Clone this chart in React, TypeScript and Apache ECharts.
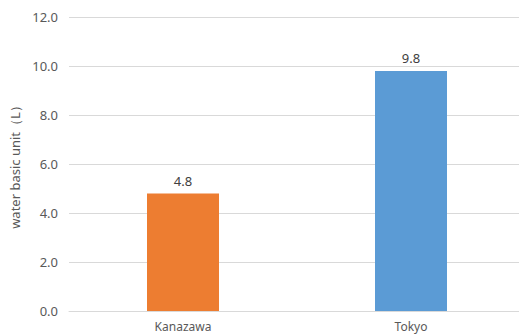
import React, { useEffect, useRef } from "react";
import * as echarts from "echarts";

const categories = ["Kanazawa", "Tokyo"];
const values = [4.8, 9.8];
const barColors = ["#ED7D31", "#5B9BD5"];
const yTicks = { min: 0, max: 12, interval: 2 };
const yAxisName = "water basic unit（L）";

export default function App() {
  const ref = useRef<HTMLDivElement>(null);
  useEffect(() => {
    if (!ref.current) return;
    const chart = echarts.init(ref.current, null, { renderer: "svg" });
    const font = "Noto Sans";
    chart.setOption({
      animation: false,
      backgroundColor: "#ffffff",
      grid: { left: 69, right: 0, top: 17, bottom: 24, containLabel: false },
      xAxis: {
        type: "category",
        data: categories,
        axisLine: { lineStyle: { color: "#d9d9d9", width: 1 } },
        axisTick: { show: false },
        axisLabel: { color: "#595959", fontSize: 12, fontFamily: font, margin: 9 },
      },
      yAxis: {
        type: "value",
        min: yTicks.min,
        max: yTicks.max,
        interval: yTicks.interval,
        name: yAxisName,
        nameLocation: "middle",
        nameGap: 44,
        nameTextStyle: { color: "#595959", fontSize: 13, fontFamily: font },
        axisLine: { show: false },
        axisTick: { show: false },
        axisLabel: {
          color: "#595959",
          fontSize: 13,
          fontFamily: font,
          margin: 11,
          formatter: (v: number) => v.toFixed(1),
        },
        splitLine: { lineStyle: { color: "#d9d9d9", width: 1 } },
      },
      series: [
        {
          type: "bar",
          data: values.map((v, i) => ({ value: v, itemStyle: { color: barColors[i] } })),
          barWidth: 72,
          label: {
            show: true,
            position: "top",
            distance: 6,
            color: "#404040",
            fontSize: 13,
            fontFamily: font,
            formatter: (p: any) => Number(p.value).toFixed(1),
          },
        },
      ],
    });
    return () => chart.dispose();
  }, []);
  return (
    <div style={{ position: "fixed", left: 0, top: 0, width: 519, height: 335, overflow: "hidden" }}>
      <div ref={ref} style={{ width: 525, height: 335 }} />
    </div>
  );
}
